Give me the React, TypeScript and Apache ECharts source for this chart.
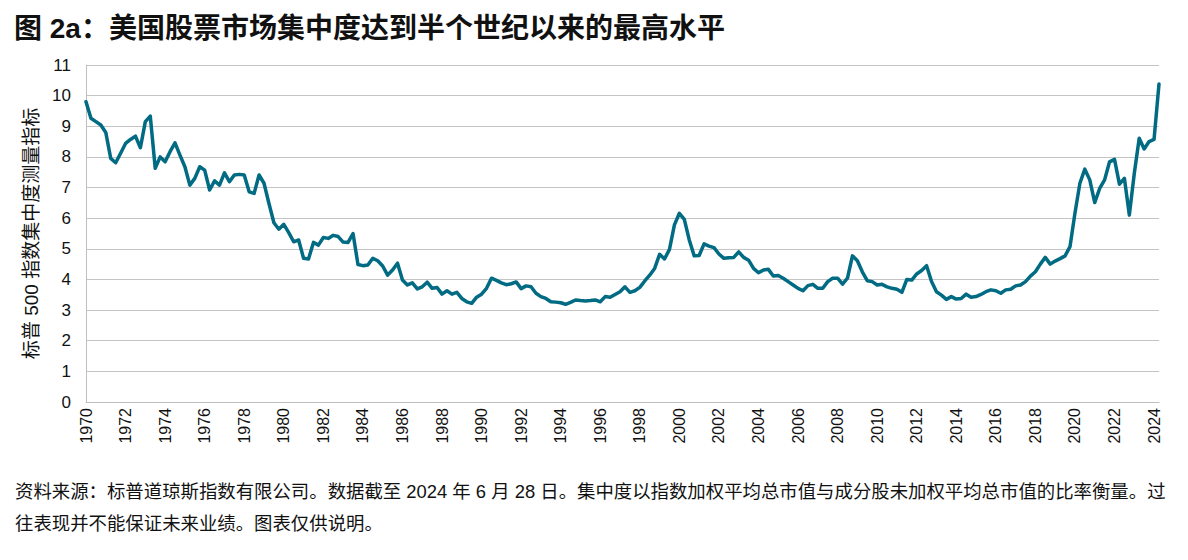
import React, { useEffect, useRef } from "react";
import * as echarts from "echarts";

const START_YEAR = 1970;
const END_YEAR = 2024;
const QUARTERS_IN_LAST_YEAR = 2;

const concentration: number[] = [
  9.80, 9.26, 9.15, 9.04, 8.80, 7.95, 7.81, 8.12, 8.44, 8.57,
  8.68, 8.30, 9.15, 9.33, 7.63, 8.00, 7.84, 8.17, 8.46, 8.06,
  7.68, 7.08, 7.30, 7.68, 7.57, 6.92, 7.22, 7.08, 7.48, 7.19,
  7.41, 7.43, 7.41, 6.86, 6.81, 7.41, 7.14, 6.48, 5.85, 5.64,
  5.80, 5.53, 5.23, 5.29, 4.69, 4.67, 5.21, 5.12, 5.37, 5.34,
  5.44, 5.40, 5.22, 5.21, 5.50, 4.49, 4.45, 4.47, 4.69, 4.61,
  4.44, 4.14, 4.31, 4.53, 3.98, 3.82, 3.89, 3.69, 3.76, 3.91,
  3.71, 3.74, 3.52, 3.63, 3.52, 3.58, 3.38, 3.27, 3.22, 3.42,
  3.52, 3.71, 4.04, 3.97, 3.89, 3.83, 3.86, 3.92, 3.70, 3.79,
  3.76, 3.55, 3.44, 3.38, 3.27, 3.26, 3.24, 3.19, 3.25, 3.33,
  3.31, 3.30, 3.31, 3.33, 3.27, 3.44, 3.42, 3.51, 3.60, 3.76,
  3.58, 3.63, 3.74, 3.95, 4.14, 4.36, 4.82, 4.67, 4.98, 5.78,
  6.16, 5.96, 5.29, 4.77, 4.78, 5.16, 5.09, 5.04, 4.83, 4.69,
  4.71, 4.72, 4.90, 4.72, 4.63, 4.36, 4.22, 4.31, 4.33, 4.11,
  4.13, 4.04, 3.93, 3.82, 3.71, 3.63, 3.80, 3.84, 3.71, 3.71,
  3.93, 4.04, 4.04, 3.85, 4.04, 4.77, 4.61, 4.25, 3.96, 3.93,
  3.82, 3.84, 3.76, 3.71, 3.68, 3.58, 4.00, 3.98, 4.18, 4.29,
  4.45, 3.93, 3.60, 3.49, 3.35, 3.44, 3.36, 3.38, 3.52, 3.42,
  3.44, 3.51, 3.60, 3.66, 3.63, 3.55, 3.66, 3.68, 3.79, 3.82,
  3.93, 4.11, 4.25, 4.50, 4.72, 4.50, 4.60, 4.68, 4.77, 5.07,
  6.16, 7.14, 7.60, 7.25, 6.51, 6.97, 7.25, 7.84, 7.92, 7.11,
  7.30, 6.10, 7.46, 8.61, 8.26, 8.50, 8.57, 10.38,
];

const TITLE = "图 2a：美国股票市场集中度达到半个世纪以来的最高水平";
const Y_NAME = "标普 500 指数集中度测量指标";
const NOTE_1 =
  "资料来源：标普道琼斯指数有限公司。数据截至 2024 年 6 月 28 日。集中度以指数加权平均总市值与成分股未加权平均总市值的比率衡量。过";
const NOTE_2 = "往表现并不能保证未来业绩。图表仅供说明。";

const quarters: string[] = [];
for (let y = START_YEAR; y <= END_YEAR; y++) {
  const n = y === END_YEAR ? QUARTERS_IN_LAST_YEAR : 4;
  for (let q = 1; q <= n; q++) quarters.push(`${y}Q${q}`);
}

const FONT = "'Liberation Sans', 'Noto Sans CJK SC', sans-serif";

export default function App() {
  const ref = useRef<HTMLDivElement>(null);
  useEffect(() => {
    if (!ref.current) return;
    const chart = echarts.init(ref.current, undefined, { renderer: "svg" });
    chart.setOption({
      animation: false,
      backgroundColor: "#ffffff",
      grid: { left: 86, right: 29, top: 65, bottom: 158, containLabel: false },
      graphic: [
        {
          type: "text",
          left: 14,
          top: 14,
          style: {
            text: TITLE,
            font: `bold 28px ${FONT}`,
            fill: "#111111",
          },
        },
        {
          type: "text",
          left: 15,
          top: 482,
          style: { text: NOTE_1, font: `18.4px ${FONT}`, fill: "#111111" },
        },
        {
          type: "text",
          left: 15,
          top: 514,
          style: { text: NOTE_2, font: `18.4px ${FONT}`, fill: "#111111" },
        },
      ],
      xAxis: {
        type: "category",
        data: quarters,
        boundaryGap: false,
        axisLine: { show: true, lineStyle: { color: "#bfbfbf", width: 1 } },
        axisTick: { show: false },
        splitLine: { show: false },
        axisLabel: {
          interval: (index: number) => index % 8 === 0,
          formatter: (v: string) => v.slice(0, 4),
          rotate: 90,
          margin: 6,
          color: "#111111",
          fontSize: 16,
          fontFamily: FONT,
        },
      },
      yAxis: {
        type: "value",
        min: 0,
        max: 11,
        interval: 1,
        name: Y_NAME,
        nameLocation: "middle",
        nameGap: 36,
        nameRotate: 90,
        nameTextStyle: { color: "#111111", fontSize: 19, fontFamily: FONT },
        axisLine: { show: true, lineStyle: { color: "#bfbfbf", width: 1 } },
        axisTick: { show: false },
        splitLine: { show: true, lineStyle: { color: "#c4c4c4", width: 1 } },
        axisLabel: {
          color: "#111111",
          fontSize: 17,
          fontFamily: FONT,
          margin: 15,
        },
      },
      series: [
        {
          type: "line",
          data: concentration,
          showSymbol: false,
          symbol: "none",
          lineStyle: { color: "#006b82", width: 3.5, join: "round", cap: "round" },
        },
      ],
    });
    return () => chart.dispose();
  }, []);
  return (
    <div
      ref={ref}
      style={{ position: "fixed", left: 0, top: 0, width: 1188, height: 560 }}
    />
  );
}
